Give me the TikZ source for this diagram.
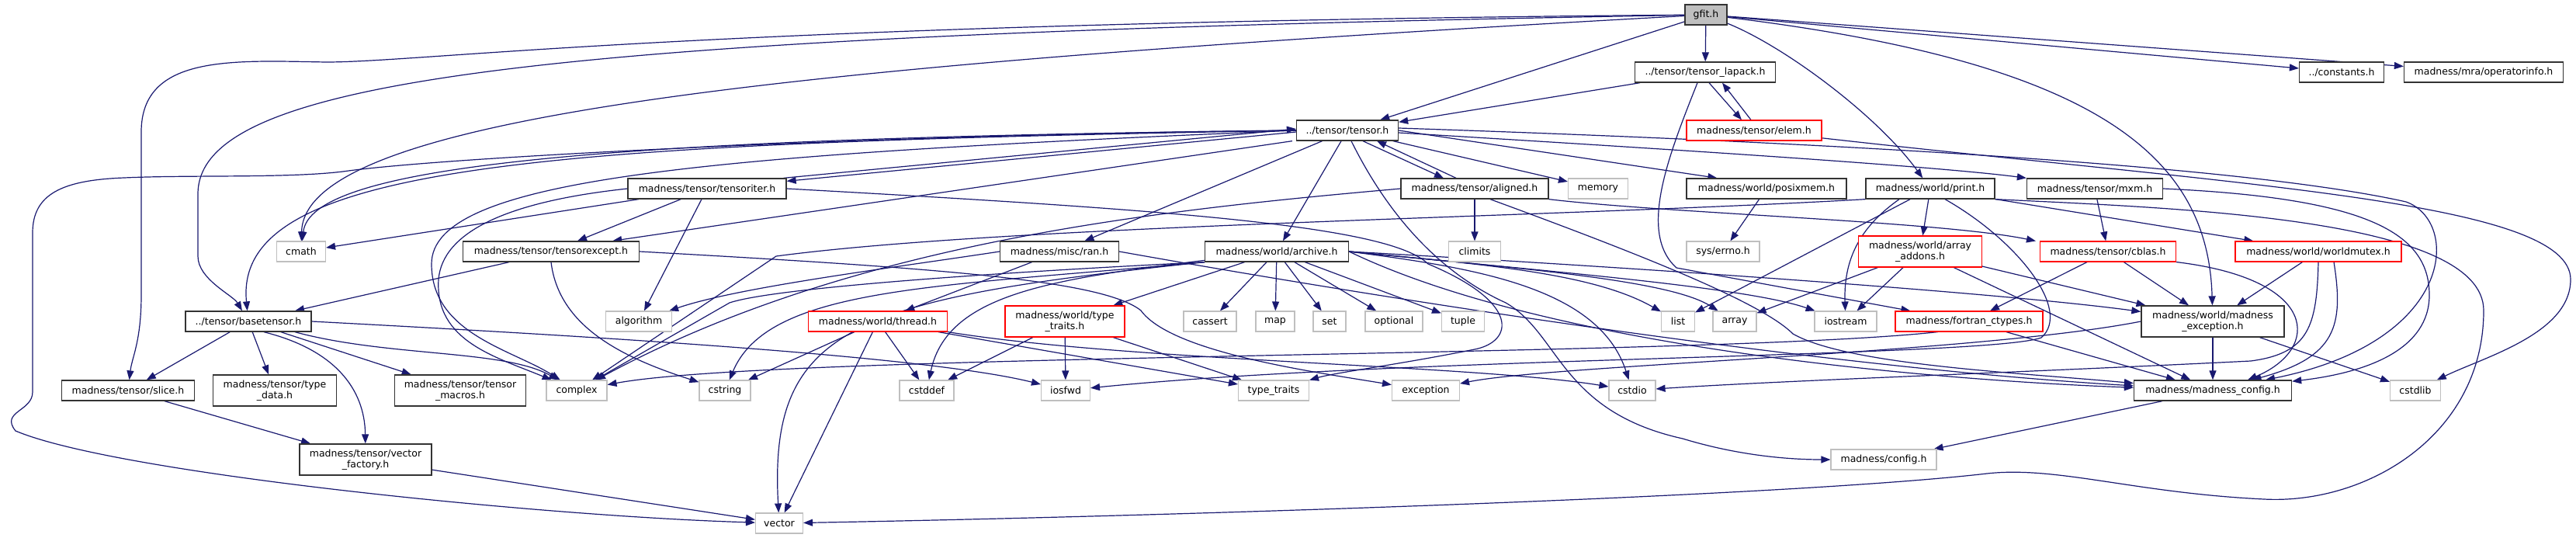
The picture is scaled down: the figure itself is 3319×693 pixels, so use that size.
\documentclass[tikz,border=0pt]{standalone}
\usepackage{fontspec}
\setmainfont{DejaVu Sans}
\usetikzlibrary{arrows.meta}
\definecolor{edgeblue}{HTML}{191970}
\definecolor{boxgray}{HTML}{BFBFBF}
\pgfdeclarelayer{bg}
\pgfsetlayers{bg,main}
\tikzset{
  box/.style={rectangle, fill=white, line width=1.1pt, minimum height=26pt,
    inner xsep=2pt, inner ysep=1pt, align=center,
    font=\fontsize{12.5}{14}\selectfont},
  hdr/.style={box, draw=black!80, line width=1.3pt},
  sysh/.style={box, draw=boxgray},
  trunc/.style={box, draw=red},
  rooth/.style={box, draw=black!80, line width=1.3pt, fill=boxgray},
  tall/.style={minimum height=40pt},
  inc/.style={->, draw=edgeblue, line width=1.2pt},
  >={Triangle[length=12pt,width=9pt]}
}

\begin{document}
\begin{tikzpicture}[x=1pt,y=-1pt]
\useasboundingbox (0,0) rectangle (3319,693);

\node[rooth, minimum width=54pt] (gfit) at (2198,19) {gfit.h};
\node[hdr, minimum width=181pt] (lapack) at (2197,93) {../tensor/tensor\_lapack.h};
\node[hdr, minimum width=109pt] (constants) at (3017,93) {../constants.h};
\node[hdr, minimum width=205pt] (opinfo) at (3200,93) {madness/mra/operatorinfo.h};
\node[trunc, minimum width=174pt] (elem) at (2260,168) {madness/tensor/elem.h};
\node[hdr, minimum width=131pt] (tensor) at (1736,168) {../tensor/tensor.h};
\node[hdr, minimum width=204pt] (tensoriter) at (911,243) {madness/tensor/tensoriter.h};
\node[hdr, minimum width=190pt] (aligned) at (1900,243) {madness/tensor/aligned.h};
\node[sysh, minimum width=77pt] (memory) at (2059,243) {memory};
\node[hdr, minimum width=206pt] (posixmem) at (2276,243) {madness/world/posixmem.h};
\node[hdr, minimum width=166pt] (print) at (2487,243) {madness/world/print.h};
\node[hdr, minimum width=175pt] (mxm) at (2699,243) {madness/tensor/mxm.h};
\node[sysh, minimum width=63pt] (cmath) at (388,324) {cmath};
\node[hdr, minimum width=227pt] (tensorexcept) at (710,324) {madness/tensor/tensorexcept.h};
\node[hdr, minimum width=153pt] (ran) at (1365,324) {madness/misc/ran.h};
\node[hdr, minimum width=185pt] (archive) at (1645,324) {madness/world/archive.h};
\node[sysh, minimum width=67pt] (climits) at (1900,324) {climits};
\node[sysh, minimum width=94pt] (errno) at (2220,324) {sys/errno.h};
\node[trunc, tall, minimum width=159pt] (arrayadd) at (2474,324) {madness/world/array\\\_addons.h};
\node[trunc, minimum width=175pt] (cblas) at (2716,324) {madness/tensor/cblas.h};
\node[trunc, minimum width=214pt] (mutex) at (2987,324) {madness/world/worldmutex.h};
\node[hdr, minimum width=162pt] (basetensor) at (320,414) {../tensor/basetensor.h};
\node[sysh, minimum width=85pt] (algorithm) at (823,414) {algorithm};
\node[trunc, minimum width=179pt] (thread) at (1131,414) {madness/world/thread.h};
\node[trunc, tall, minimum width=154pt] (wtt) at (1372,414) {madness/world/type\\\_traits.h};
\node[sysh, minimum width=68pt] (cassert) at (1559,414) {cassert};
\node[sysh, minimum width=50pt] (map) at (1643,414) {map};
\node[sysh, minimum width=42pt] (set) at (1713,414) {set};
\node[sysh, minimum width=74pt] (optional) at (1796,414) {optional};
\node[sysh, minimum width=55pt] (tuple) at (1885,414) {tuple};
\node[sysh, minimum width=43pt] (list) at (2162,414) {list};
\node[sysh, minimum width=56pt] (array) at (2235,414) {array};
\node[sysh, minimum width=80pt] (iostream) at (2378,414) {iostream};
\node[trunc, minimum width=190pt] (fortran) at (2537,414) {madness/fortran\_ctypes.h};
\node[hdr, tall, minimum width=184pt] (mexc) at (2851,414) {madness/world/madness\\\_exception.h};
\node[hdr, minimum width=171pt] (slice) at (165,503) {madness/tensor/slice.h};
\node[hdr, tall, minimum width=159pt] (typedata) at (354,503) {madness/tensor/type\\\_data.h};
\node[hdr, tall, minimum width=169pt] (macros) at (593,503) {madness/tensor/tensor\\\_macros.h};
\node[sysh, minimum width=78pt] (complex) at (743,503) {complex};
\node[sysh, minimum width=66pt] (cstring) at (934,503) {cstring};
\node[sysh, minimum width=70pt] (cstddef) at (1194,503) {cstddef};
\node[sysh, minimum width=63pt] (iosfwd) at (1373,503) {iosfwd};
\node[sysh, minimum width=91pt] (typetraits) at (1641,503) {type\_traits};
\node[sysh, minimum width=87pt] (exception) at (1837,503) {exception};
\node[sysh, minimum width=60pt] (cstdio) at (2103,503) {cstdio};
\node[hdr, minimum width=203pt] (mconfig) at (2851,503) {madness/madness\_config.h};
\node[sysh, minimum width=65pt] (cstdlib) at (3112,503) {cstdlib};
\node[hdr, tall, minimum width=170pt] (vfactory) at (471,592) {madness/tensor/vector\\\_factory.h};
\node[sysh, minimum width=136pt] (config) at (2427,592) {madness/config.h};
\node[sysh, minimum width=61pt] (vector) at (1004,674) {vector};

\begin{pgfonlayer}{bg}
\fill[white] (0,0) rectangle (3319,693);
% gfit.h
\draw[inc] (gfit) -- (lapack);
\draw[inc] (gfit) -- (tensor);
\draw[inc] (gfit) .. controls (2300,60) and (2420,150) .. (print);
\draw[inc] (gfit) -- (constants);
\draw[inc] (gfit) -- (opinfo);
\draw[inc] (gfit) .. controls (2700,80) and (2845,200) .. (mexc);
\draw[inc] (gfit) .. controls (1000,85) and (392,150) .. (cmath);
\draw[inc] (gfit) .. controls (700,45) and (255,100) .. (255,250) -- (255,330) .. controls (255,360) and (300,380) .. (basetensor);
\draw[inc] (gfit) .. controls (900,30) and (550,80) .. (420,80) .. controls (300,78) and (182,70) .. (182,170) -- (182,380) .. controls (182,440) and (170,460) .. (slice);
% tensor_lapack.h and elem.h
\draw[inc] (lapack) -- (tensor);
\draw[inc] ([xshift=5pt]lapack.south) -- ([xshift=-16pt]elem.north);
\draw[inc] ([xshift=-4pt]elem.north) -- ([xshift=22pt]lapack.south);
\draw[inc] ([xshift=-10pt]lapack.south) .. controls (2150,200) and (2110,300) .. (2160,345) -- ([xshift=20pt]fortran.north west);
\draw[inc] (elem) .. controls (2900,240) and (3312,260) .. (3312,360) .. controls (3312,430) and (3200,460) .. (cstdlib);
% tensor.h
\draw[inc] ([yshift=-2pt]tensor.west) -- ([yshift=-4pt]tensoriter.north east);
\draw[inc] ([xshift=-4pt]tensoriter.north east) -- ([yshift=2pt]tensor.west);
\draw[inc] ([xshift=20pt]tensor.south) -- ([xshift=-40pt]aligned.north);
\draw[inc] ([xshift=-24pt]aligned.north) -- ([xshift=38pt]tensor.south);
\draw[inc] (tensor) -- (memory);
\draw[inc] (tensor.east) -- ([xshift=40pt]posixmem.north west);
\draw[inc] ([yshift=-3pt]tensor.east) .. controls (2200,195) and (2500,215) .. (mxm.north west);
\draw[inc] (tensor) -- (ran);
\draw[inc] (tensor) -- (archive);
\draw[inc] ([xshift=-5pt]tensor.south west) -- ([xshift=-35pt]tensorexcept.north east);
\draw[inc] (tensor.west) .. controls (700,185) and (300,210) .. (basetensor);
\draw[inc] (tensor.west) .. controls (750,178) and (400,215) .. (cmath);
\draw[inc] (tensor.west) .. controls (900,200) and (556,230) .. (556,340) .. controls (556,430) and (660,450) .. (complex);
\draw[inc] (tensor.west) .. controls (1200,172) and (600,200) .. (449,220) .. controls (380,230) and (250,225) .. (160,229) .. controls (80,232) and (42,250) .. (42,300) -- (42,505) .. controls (42,530) and (0,530) .. (20,555) .. controls (150,610) and (700,665) .. (vector);
\draw[inc] ([xshift=5pt]tensor.south) .. controls (1770,240) and (1830,340) .. (1940,390) .. controls (2010,430) and (2010,530) .. (2168,565) .. controls (2250,590) and (2320,592) .. (config);
\draw[inc] ([yshift=3pt]tensor.east) .. controls (2400,185) and (2900,215) .. (3100,260) .. controls (3170,285) and (3165,440) .. (mconfig);
% tensoriter.h
\draw[inc] (tensoriter) -- (cmath);
\draw[inc] (tensoriter) -- ([xshift=34pt]tensorexcept.north);
\draw[inc] (tensoriter) -- (algorithm);
\draw[inc] (tensoriter.west) .. controls (650,260) and (570,300) .. (565,360) .. controls (560,440) and (640,460) .. (complex);
\draw[inc] (tensoriter.east) .. controls (1500,270) and (1790,290) .. (1840,340) .. controls (1960,390) and (1950,440) .. (1900,450) .. controls (1800,470) and (1720,480) .. (typetraits);
% aligned.h
\draw[inc] (aligned) -- (climits);
\draw[inc] (aligned.west) .. controls (1500,270) and (1100,310) .. (complex);
\draw[inc] ([xshift=20pt]aligned.south) .. controls (2120,330) and (2270,390) .. (2310,430) .. controls (2380,470) and (2600,480) .. (mconfig);
\draw[inc] (aligned.south east) .. controls (2150,275) and (2500,285) .. ([xshift=-5pt]cblas.north west);
% posixmem.h and print.h
\draw[inc] (posixmem) -- (errno);
\draw[inc] (print) -- (arrayadd);
\draw[inc] ([xshift=-40pt]print.south) .. controls (2400,290) and (2375,330) .. (iostream);
\draw[inc] (print) -- (list);
\draw[inc] (print.south west) .. controls (2000,280) and (1300,290) .. (1000,330) -- (complex);
\draw[inc] (print) -- (mutex);
\draw[inc] ([xshift=19pt]print.south) .. controls (2600,310) and (2670,400) .. (2630,435) .. controls (2560,460) and (1800,460) .. (iosfwd);
\draw[inc] (print.south east) .. controls (2800,268) and (3200,280) .. (3200,400) .. controls (3200,560) and (3050,650) .. (2917,643) .. controls (2750,635) and (2650,600) .. (2560,610) .. controls (2300,640) and (1500,665) .. (vector);
% mxm.h
\draw[inc] (mxm) -- (cblas);
\draw[inc] (mxm.east) .. controls (3050,255) and (3130,300) .. (3130,380) .. controls (3130,450) and (3050,480) .. (mconfig);
% tensorexcept.h
\draw[inc] ([xshift=-54pt]tensorexcept.south) -- (basetensor);
\draw[inc] (tensorexcept.south) .. controls (720,420) and (800,460) .. (cstring);
\draw[inc] (tensorexcept.east) .. controls (1200,345) and (1420,360) .. (1470,400) .. controls (1510,455) and (1700,480) .. (exception);
% ran.h
\draw[inc] (ran) -- (thread);
\draw[inc] (ran.west) .. controls (1150,345) and (950,370) .. (algorithm);
\draw[inc] (ran.east) .. controls (1700,370) and (2300,470) .. (mconfig);
% archive.h
\draw[inc] (archive) -- (cassert);
\draw[inc] (archive) -- (map);
\draw[inc] (archive) -- (set);
\draw[inc] (archive) -- (optional);
\draw[inc] (archive) -- (tuple);
\draw[inc] (archive) -- (wtt);
\draw[inc] (archive) .. controls (1350,360) and (1220,380) .. (cstddef);
\draw[inc] (archive.south west) .. controls (1300,350) and (1000,370) .. (940,390) -- (complex);
\draw[inc] (archive.south west) .. controls (1200,370) and (990,370) .. (cstring);
\draw[inc] (archive.south west) .. controls (1100,385) and (990,420) .. (vector);
\draw[inc] (archive.east) .. controls (1900,340) and (2050,350) .. (list);
\draw[inc] (archive.east) .. controls (1950,345) and (2150,360) .. (array);
\draw[inc] (archive.east) .. controls (2000,350) and (2250,370) .. (iostream);
\draw[inc] (archive.east) .. controls (1900,345) and (2060,370) .. (cstdio);
\draw[inc] (archive.east) .. controls (2200,350) and (2600,380) .. (mexc);
\draw[inc] (archive.east) .. controls (2000,450) and (2500,490) .. (mconfig);
% basetensor.h
\draw[inc] (basetensor) -- (slice);
\draw[inc] (basetensor) -- (typedata);
\draw[inc] (basetensor) -- (macros);
\draw[inc] ([xshift=20pt]basetensor.south) .. controls (430,450) and (470,500) .. (vfactory);
\draw[inc] ([xshift=60pt]basetensor.south) .. controls (500,460) and (650,450) .. (complex);
\draw[inc] (basetensor.east) .. controls (800,435) and (1200,460) .. (iosfwd);
\draw[inc] (slice) -- (vfactory);
\draw[inc] (vfactory) -- (vector);
% thread.h and type_traits.h
\draw[inc] (thread) -- (cstring);
\draw[inc] (thread) -- (vector);
\draw[inc] (thread) -- (cstddef);
\draw[inc] (thread) -- (typetraits);
\draw[inc] (thread.south east) .. controls (1450,465) and (1900,470) .. (cstdio);
\draw[inc] (wtt) -- (cstddef);
\draw[inc] (wtt) -- (iosfwd);
\draw[inc] (wtt) -- (typetraits);
% array_addons.h, cblas.h, worldmutex.h, fortran_ctypes.h
\draw[inc] (arrayadd) -- (array);
\draw[inc] (arrayadd) -- (iostream);
\draw[inc] (arrayadd) -- (mconfig);
\draw[inc] (arrayadd) -- (mexc);
\draw[inc] (cblas) -- (fortran);
\draw[inc] (cblas) -- (mexc);
\draw[inc] (cblas.south east) .. controls (2990,360) and (2990,450) .. ([xshift=45pt]mconfig.north);
\draw[inc] (mutex) -- (mexc);
\draw[inc] (mutex.south) .. controls (2985,420) and (2975,455) .. (2900,465) .. controls (2600,480) and (2300,490) .. (cstdio);
\draw[inc] ([xshift=20pt]mutex.south) .. controls (3020,420) and (3010,460) .. (mconfig);
\draw[inc] (fortran) -- (mconfig);
\draw[inc] ([xshift=-40pt]fortran.south) .. controls (2200,460) and (1000,455) .. (complex);
% madness_exception.h and madness_config.h
\draw[inc] (mexc) -- (mconfig);
\draw[inc] (mexc) -- (cstdlib);
\draw[inc] (mexc.west) .. controls (2550,455) and (2000,470) .. (exception);
\draw[inc] (mconfig) -- (config);
\end{pgfonlayer}
\end{tikzpicture}
\end{document}
